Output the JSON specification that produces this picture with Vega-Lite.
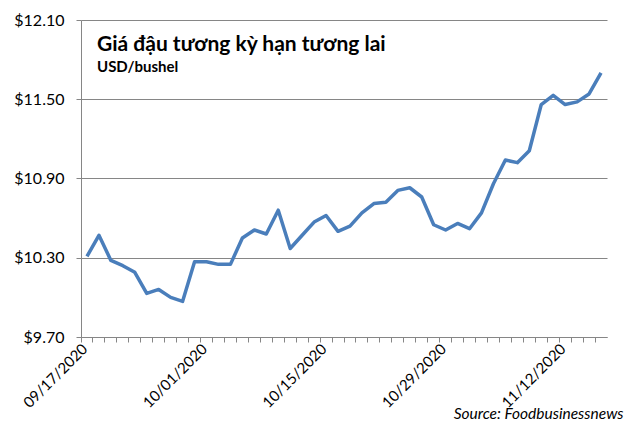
{
  "$schema": "https://vega.github.io/schema/vega-lite/v6.json",
  "width": 526,
  "height": 317,
  "autosize": "none",
  "padding": {"left": 81, "top": 20, "right": 33, "bottom": 89},
  "background": "#ffffff",
  "title": {
    "text": "Giá đậu tương kỳ hạn tương lai",
    "subtitle": "USD/bushel",
    "anchor": "start",
    "frame": "group",
    "orient": "top",
    "offset": -63,
    "dx": 16,
    "font": "Lato",
    "fontSize": 21,
    "fontWeight": "bold",
    "color": "#000000",
    "subtitleFont": "Lato",
    "subtitleFontSize": 15,
    "subtitleFontWeight": "bold",
    "subtitleColor": "#000000",
    "subtitlePadding": 5
  },
  "config": {
    "view": {"stroke": null},
    "font": "Lato"
  },
  "data": {
    "values": [
      {"date": "09/17/2020", "price": 10.31},
      {"date": "09/18/2020", "price": 10.47},
      {"date": "09/21/2020", "price": 10.28},
      {"date": "09/22/2020", "price": 10.24},
      {"date": "09/23/2020", "price": 10.19},
      {"date": "09/24/2020", "price": 10.03},
      {"date": "09/25/2020", "price": 10.06},
      {"date": "09/28/2020", "price": 10.00},
      {"date": "09/29/2020", "price": 9.97},
      {"date": "09/30/2020", "price": 10.27},
      {"date": "10/01/2020", "price": 10.27},
      {"date": "10/02/2020", "price": 10.25},
      {"date": "10/05/2020", "price": 10.25},
      {"date": "10/06/2020", "price": 10.45},
      {"date": "10/07/2020", "price": 10.51},
      {"date": "10/08/2020", "price": 10.48},
      {"date": "10/09/2020", "price": 10.66},
      {"date": "10/12/2020", "price": 10.37},
      {"date": "10/13/2020", "price": 10.47},
      {"date": "10/14/2020", "price": 10.57},
      {"date": "10/15/2020", "price": 10.62},
      {"date": "10/16/2020", "price": 10.50},
      {"date": "10/19/2020", "price": 10.54},
      {"date": "10/20/2020", "price": 10.64},
      {"date": "10/21/2020", "price": 10.71},
      {"date": "10/22/2020", "price": 10.72},
      {"date": "10/23/2020", "price": 10.81},
      {"date": "10/26/2020", "price": 10.83},
      {"date": "10/27/2020", "price": 10.76},
      {"date": "10/28/2020", "price": 10.55},
      {"date": "10/29/2020", "price": 10.51},
      {"date": "10/30/2020", "price": 10.56},
      {"date": "11/02/2020", "price": 10.52},
      {"date": "11/03/2020", "price": 10.64},
      {"date": "11/04/2020", "price": 10.86},
      {"date": "11/05/2020", "price": 11.04},
      {"date": "11/06/2020", "price": 11.02},
      {"date": "11/09/2020", "price": 11.11},
      {"date": "11/10/2020", "price": 11.46},
      {"date": "11/11/2020", "price": 11.53},
      {"date": "11/12/2020", "price": 11.46},
      {"date": "11/13/2020", "price": 11.48},
      {"date": "11/16/2020", "price": 11.54},
      {"date": "11/17/2020", "price": 11.70}
    ]
  },
  "mark": {"type": "line", "color": "#4a7ebb", "strokeWidth": 3.5, "strokeJoin": "round"},
  "encoding": {
    "x": {
      "field": "date",
      "type": "ordinal",
      "sort": null,
      "bandPosition": 0.5,
      "scale": {"type": "band", "paddingInner": 0, "paddingOuter": 0},
      "axis": {
        "bandPosition": 0,
        "labelOffset": -2,
        "labelAngle": -45,
        "labelAlign": "right",
        "labelBaseline": "middle",
        "labelOverlap": false,
        "labelExpr": "indexof(['09/17/2020','10/01/2020','10/15/2020','10/29/2020','11/12/2020'], datum.value) >= 0 ? datum.value : ''",
        "labelFont": "Lato",
        "labelFontSize": 15,
        "labelColor": "#000000",
        "labelPadding": 4,
        "tickSize": 5,
        "tickColor": "#868686",
        "domainColor": "#868686",
        "grid": false,
        "title": "Source: Foodbusinessnews",
        "titleFont": "Lato",
        "titleFontSize": 15.5,
        "titleFontStyle": "italic",
        "titleFontWeight": "normal",
        "titleColor": "#000000",
        "titleAnchor": "end",
        "titleAlign": "right",
        "titleBaseline": "alphabetic",
        "titleX": 542,
        "titleY": 81
      }
    },
    "y": {
      "field": "price",
      "type": "quantitative",
      "scale": {"domain": [9.7, 12.1], "zero": false, "nice": false},
      "axis": {
        "values": [9.7, 10.3, 10.9, 11.5, 12.1],
        "format": "$.2f",
        "labelFont": "Lato",
        "labelFontSize": 16,
        "labelColor": "#000000",
        "labelPadding": 12,
        "tickSize": 5,
        "tickColor": "#868686",
        "domainColor": "#868686",
        "gridColor": "#868686",
        "gridOpacity": 1,
        "title": null
      }
    }
  }
}
